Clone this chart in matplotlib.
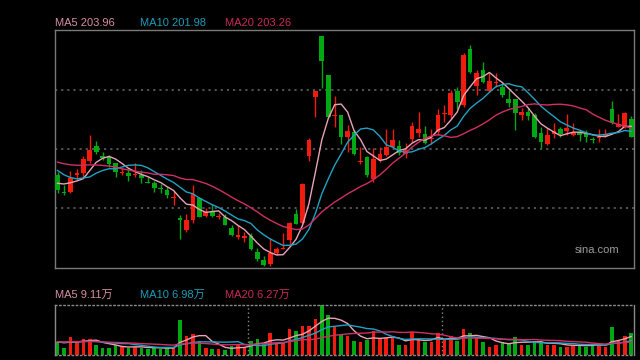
import numpy as np
import pandas as pd
import matplotlib
matplotlib.use("Agg")
import matplotlib.pyplot as plt

plt.rcParams["font.family"] = ["Liberation Sans", "Noto Sans CJK SC", "DejaVu Sans"]

# ── daily candles (price) ────────────────────────────────────────────────────
opens = [184.5, 177.7, 177.7, 184.5, 185.4, 190.2, 196.1, 191.9, 191.8, 189.2,
         185.2, 185.4, 184.5, 184.5, 181.8, 181.2, 179.4, 178.5, 175.3, 167.1,
         162.5, 166.5, 175.4, 168.1, 169.8, 167.6, 167.7, 163.3, 159.9, 159.5,
         160.3, 153.7, 150.7, 148.9, 153.3, 155.0, 158.7, 168.9, 165.4, 192.1,
         215.8, 240.1, 224.5, 208.2, 208.5, 199.8, 201.9, 189.7, 191.8, 182.9,
         190.5, 192.5, 195.8, 196.1, 192.8, 198.8, 201.2, 200.8, 199.0, 201.7,
         208.9, 208.5, 218.2, 212.5, 234.9, 220.2, 226.5, 218.1, 221.3, 219.8,
         214.9, 214.9, 208.5, 209.8, 208.5, 201.2, 196.9, 200.8, 202.9, 202.1,
         200.7, 201.8, 201.4, 199.0, 199.2, 200.3, 210.8, 203.8, 203.8, 206.9]
closes = [178.5, 177.3, 183.3, 185.3, 190.9, 194.5, 193.8, 191.5, 188.9, 185.8,
          185.6, 184.2, 184.9, 183.2, 181.4, 179.2, 178.8, 176.5, 175.7, 166.7,
          166.5, 176.9, 167.8, 169.9, 168.2, 168.0, 164.6, 160.5, 160.3, 159.9,
          154.9, 150.9, 148.5, 153.3, 155.0, 155.4, 165.2, 165.0, 180.9, 198.5,
          218.1, 230.1, 207.8, 208.6, 199.8, 202.1, 192.9, 190.1, 184.5, 191.1,
          192.9, 195.8, 198.5, 193.2, 194.5, 204.1, 202.9, 197.4, 199.4, 208.5,
          209.3, 217.4, 213.8, 232.5, 225.8, 225.4, 221.8, 222.1, 221.7, 216.5,
          213.2, 209.2, 209.8, 208.2, 199.8, 197.8, 200.5, 202.2, 200.9, 203.4,
          201.1, 200.5, 199.8, 198.6, 199.8, 200.7, 205.2, 204.9, 209.2, 199.8]
highs = [185.7, 180.5, 186.1, 186.9, 192.1, 200.5, 198.2, 193.8, 192.5, 189.4,
         187.3, 186.9, 189.4, 186.5, 183.8, 182.1, 180.8, 179.8, 178.2, 168.5,
         168.9, 180.5, 175.8, 171.4, 172.8, 169.4, 168.8, 164.5, 164.5, 161.8,
         161.2, 155.2, 152.1, 159.2, 155.8, 161.2, 165.8, 171.1, 181.4, 199.2,
         218.1, 240.1, 224.5, 216.1, 208.5, 204.5, 202.5, 195.8, 192.1, 195.2,
         195.8, 202.8, 202.9, 198.5, 197.4, 205.8, 209.8, 204.1, 202.8, 210.8,
         212.5, 218.5, 219.8, 233.2, 236.5, 226.5, 229.8, 225.4, 225.4, 221.2,
         218.5, 214.9, 211.2, 211.2, 209.2, 203.8, 203.2, 205.2, 203.6, 208.8,
         205.4, 202.5, 202.5, 199.8, 202.8, 202.8, 214.1, 208.8, 209.8, 208.1]
lows = [177.3, 176.5, 177.3, 182.5, 183.8, 189.3, 192.8, 190.5, 187.8, 183.8,
        184.5, 182.1, 183.8, 181.2, 181.2, 177.8, 177.4, 175.2, 172.5, 158.9,
        161.7, 165.3, 167.6, 167.6, 167.8, 166.8, 164.5, 160.1, 158.9, 157.8,
        154.7, 150.2, 148.1, 148.1, 152.5, 154.8, 156.9, 164.9, 165.0, 190.2,
        207.8, 219.2, 207.6, 203.6, 196.9, 193.8, 192.5, 188.9, 183.8, 181.8,
        189.8, 192.1, 195.3, 192.5, 191.2, 197.8, 199.8, 196.9, 196.9, 200.5,
        205.8, 206.8, 210.8, 211.8, 225.2, 216.5, 221.2, 217.8, 219.8, 215.8,
        211.8, 202.5, 206.5, 206.5, 199.2, 195.4, 196.5, 199.2, 199.6, 200.5,
        200.1, 198.2, 197.8, 197.2, 197.8, 199.8, 204.9, 203.6, 203.2, 199.6]
# closes before the window (only used to warm up the moving averages)
prev_closes = [190.5, 191.3, 189.7, 189.3, 192.5, 194.5, 195.3, 194.5, 193.7,
               198.5, 194.5, 194.5, 190.5, 187.3, 190.5, 178.7, 180.7, 181.9, 186.1]

# ── volume (万) ──────────────────────────────────────────────────────────────
volumes = [6.4, 3.4, 8.9, 6.75, 7.75, 7.75, 4.75, 3.4, 3.4, 4.6,
           3.9, 3.4, 3.9, 3.4, 2.9, 3.6, 2.75, 3.4, 3.4, 17.25,
           9.25, 10.5, 6.75, 3.4, 2.75, 2.75, 2.25, 4.25, 5.0, 3.4,
           6.65, 7.75, 5.6, 10.9, 5.9, 5.9, 12.75, 11.75, 14.25, 14.25,
           17.75, 24.75, 19.75, 13.9, 9.75, 9.25, 6.75, 6.4, 7.25, 11.75,
           8.1, 8.1, 8.4, 4.75, 4.75, 11.4, 7.6, 6.4, 6.4, 10.6,
           7.25, 9.25, 6.75, 12.75, 10.9, 8.1, 6.25, 3.9, 4.75, 6.4,
           5.6, 8.9, 5.0, 5.0, 7.0, 6.0, 5.0, 5.0, 4.0, 4.0,
           5.0, 5.0, 4.0, 5.0, 5.0, 4.0, 13.9, 7.0, 9.25, 10.9]
prev_volumes = [7.0, 6.2, 5.8, 6.6, 7.4, 6.0, 5.5, 6.8, 7.2, 6.3,
                5.9, 6.5, 7.1, 6.0, 6.4, 5.6, 7.5, 6.2, 5.9]

price_labels = ["MA5 203.96", "MA10 201.98", "MA20 203.26"]
vol_labels = ["MA5 9.11万", "MA10 6.98万", "MA20 6.27万"]

RED = "#f21b0f"
GREEN = "#00a812"
MA_COLORS = ["#e8a3b6", "#21a2c4", "#cf2f66"]
LABEL_COLORS = ["#d98ea6", "#1f9bb8", "#c8285f"]
GRID = "#5a5a5a"
FRAME = "#7a7a7a"

n = len(closes)
x = np.arange(n)
o = np.array(opens)
c = np.array(closes)
h = np.array(highs)
l = np.array(lows)
up = c >= o
colors = np.where(up, RED, GREEN)

all_close = pd.Series(prev_closes + closes)
all_vol = pd.Series(prev_volumes + volumes)
k = len(prev_closes)
ma_price = [all_close.rolling(w).mean().to_numpy()[k:] for w in (5, 10, 20)]
ma_vol = [all_vol.rolling(w).mean().to_numpy()[k:] for w in (5, 10, 20)]

fig = plt.figure(figsize=(6.4, 3.6), dpi=100, facecolor="black")
W, H = 640, 360
ax = fig.add_axes([55 / W, 1 - 268 / H, 579 / W, 238 / H], facecolor="black")
axv = fig.add_axes([55 / W, 1 - 354.5 / H, 579 / W, 50 / H], facecolor="black")

xlim = (-0.39, n - 1 + 0.43)
ylo, yhi = 147.3, 242.5

# ── price panel ──────────────────────────────────────────────────────────────
for yy in np.linspace(ylo, yhi, 5)[1:-1]:
    ax.axhline(yy, color=GRID, lw=1.3, ls=(0, (1.2, 2.2)), zorder=0)

ax.vlines(x, l, h, colors=colors, lw=1.0, zorder=2)
body_lo = np.minimum(o, c)
body_h = np.maximum(np.abs(c - o), 0.45)
ax.bar(x, body_h, bottom=body_lo, width=0.72, color=colors, lw=0, zorder=3)

for ma, col in zip(ma_price, MA_COLORS):
    ax.plot(x, ma, color=col, lw=1.0, zorder=4)

ax.set_xlim(*xlim)
ax.set_ylim(ylo, yhi)
ax.set_xticks([])
ax.set_yticks([])
for s in ax.spines.values():
    s.set_color(FRAME)
    s.set_linewidth(1.0)

ax.text(0.975, 0.075, "sina.com", transform=ax.transAxes, color="#9a9a9a",
        fontsize=8, ha="right", va="center", family=["Liberation Sans"])

# ── volume panel ─────────────────────────────────────────────────────────────
axv.bar(x, volumes, width=0.55, color=colors, lw=0, zorder=2)
for ma, col in zip(ma_vol, MA_COLORS):
    axv.plot(x, ma, color=col, lw=1.0, zorder=3)
for xv in (29.6, 59.6):
    axv.axvline(xv, color="#8a8a8a", lw=1.0, ls=(0, (1, 2)), zorder=1)

axv.set_xlim(*xlim)
axv.set_ylim(0, 25)
axv.set_xticks([])
axv.set_yticks([])
for side, s in axv.spines.items():
    s.set_color("#8a8a8a")
    s.set_linewidth(1.0)
    if side in ("top", "bottom"):
        s.set_linestyle((0, (1, 2)))

# ── legend texts ─────────────────────────────────────────────────────────────
for i, (txt, col) in enumerate(zip(price_labels, LABEL_COLORS)):
    fig.text((55 + 85 * i) / W, 1 - 23.5 / H, txt, color=col, fontsize=8,
             ha="left", va="center")
for i, (txt, col) in enumerate(zip(vol_labels, LABEL_COLORS)):
    fig.text((55 + 85 * i) / W, 1 - 295 / H, txt, color=col, fontsize=8,
             ha="left", va="center")

fig.savefig("out.png", dpi=100, facecolor="black")
plt.close(fig)
